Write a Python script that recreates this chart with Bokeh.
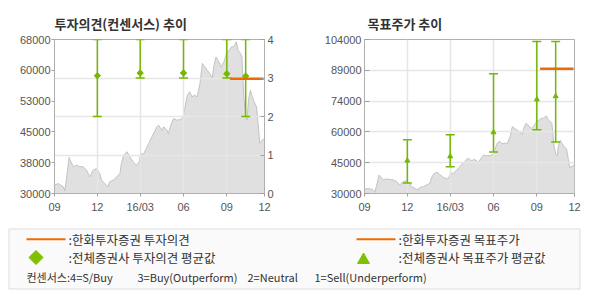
import pandas as pd
from bokeh.plotting import figure
from bokeh.models import Range1d, LinearAxis, FixedTicker, ColumnDataSource, Whisker, TeeHead
from bokeh.layouts import column, row
from bokeh.embed import file_html
from bokeh.resources import INLINE
from bokeh.core.properties import value

# ---------------- data ----------------
price_dates = ["2015-09-01","2015-09-09","2015-09-20","2015-09-23","2015-09-27","2015-10-02","2015-10-05",
               "2015-10-11","2015-10-18","2015-10-25","2015-11-01","2015-11-08","2015-11-15","2015-11-22",
               "2015-11-29","2015-12-06","2015-12-10","2015-12-17","2015-12-24","2015-12-27","2016-01-04",
               "2016-01-11","2016-01-18","2016-01-21","2016-01-26","2016-02-02","2016-02-08","2016-02-15",
               "2016-02-22","2016-02-28","2016-03-02","2016-03-08","2016-03-14","2016-03-19","2016-03-26",
               "2016-04-02","2016-04-05","2016-04-09","2016-04-16","2016-04-20","2016-04-27","2016-04-30",
               "2016-05-05","2016-05-11","2016-05-18","2016-05-25","2016-05-31","2016-06-03","2016-06-09",
               "2016-06-14","2016-06-19","2016-06-24","2016-06-30","2016-07-06","2016-07-11","2016-07-16",
               "2016-07-21","2016-07-27","2016-08-01","2016-08-04","2016-08-09","2016-08-15","2016-08-20",
               "2016-08-26","2016-08-31","2016-09-06","2016-09-11","2016-09-16","2016-09-21","2016-09-25",
               "2016-09-30","2016-10-03","2016-10-07","2016-10-11","2016-10-14","2016-10-17","2016-10-21",
               "2016-10-24","2016-10-29","2016-11-03","2016-11-07","2016-11-10","2016-11-15","2016-11-20"]
price_values = [32050,32450,31650,30650,34100,38900,38050,36600,37000,36600,36600,35750,34100,35750,
                36150,34950,33300,32450,31650,32900,33300,34100,34950,37400,39450,40300,39050,37800,
                37000,37800,39850,39700,41100,42350,44000,45600,46450,46850,45600,46450,45600,44800,
                46850,48500,48100,48250,48750,50550,54250,55100,53850,54250,53850,57150,62100,61250,
                60450,59600,58400,61250,63700,62500,61250,62500,64550,65350,66200,66200,67400,65350,
                64550,63700,53850,48900,48100,53050,55500,54250,52600,51400,46450,42350,43150,43550]

bar_dates = ["2015-12-01", "2016-03-01", "2016-06-01", "2016-09-01", "2016-10-11"]
opinion_high = [4, 4, 4, 4, 4]
opinion_low = [2, 3, 3, 3, 2]
opinion_mean = [3.06, 3.13, 3.13, 3.11, 3.05]
target_high = [55800, 58200, 87600, 103000, 103000]
target_low = [35000, 42900, 50000, 60600, 54800]
target_mean = [45800, 47800, 59400, 75200, 76700]

hanwha_dates = ["2016-09-08", "2016-11-18"]
hanwha_opinion = [2.98, 2.98]
hanwha_target = [90000, 90000]

x_tick_dates = ["2015-09-01", "2015-12-01", "2016-03-01", "2016-06-01", "2016-09-01", "2016-11-20"]
x_tick_labels = ["09", "12", "16/03", "06", "09", "12"]

price_ticks = [30000, 37600, 45200, 52800, 60400, 68000]
price_tick_labels = ["30000", "38000", "45000", "53000", "60000", "68000"]
opinion_ticks = [0, 1, 2, 3, 4]
target_ticks = [30000, 44800, 59600, 74400, 89200, 104000]
target_tick_labels = ["30000", "45000", "60000", "74000", "89000", "104000"]

title_left = "투자의견(컨센서스) 추이"
title_right = "목표주가 추이"
legend_left = [":한화투자증권 투자의견", ":전체증권사 투자의견 평균값"]
legend_right = [":한화투자증권 목표주가", ":전체증권사 목표주가 평균값"]
consensus_parts = ["컨센서스:4=S/Buy", "3=Buy(Outperform)", "2=Neutral", "1=Sell(Underperform)"]

# ---------------- helpers ----------------
origin = pd.Timestamp(x_tick_dates[0])
def days(ds):
    return [int((pd.Timestamp(d) - origin).days) for d in ds]

xt = days(x_tick_dates)
GREEN = "#74b800"
ORANGE = "#f06a00"
AXIS = "#b0b0b0"
GRID = "#e6e6e6"
NUMFONT = "Liberation Sans"
KFONT = "Noto Sans CJK KR"

def style_axis(ax, tin, tout, standoff):
    ax.axis_line_color = AXIS
    ax.major_tick_line_color = "#a0a0a0"
    ax.minor_tick_line_color = None
    ax.major_tick_in = tin
    ax.major_tick_out = tout
    ax.major_label_standoff = standoff
    ax.major_label_text_font = NUMFONT
    ax.major_label_text_font_size = "11px"
    ax.major_label_text_color = "#555555"

def base_fig(title, yr, yloc, mbl, mbr, offset):
    p = figure(width=295, height=222, output_backend="svg", toolbar_location=None,
               x_range=Range1d(0, xt[-1]), y_range=yr, y_axis_location=yloc,
               min_border_left=mbl, min_border_right=mbr, min_border_top=39, min_border_bottom=29)
    p.title.text = title
    p.title.text_font = KFONT
    p.title.text_font_size = "13px"
    p.title.text_font_style = "bold"
    p.title.text_color = "#333333"
    p.title.offset = offset
    p.title.standoff = 13
    p.outline_line_color = AXIS
    p.background_fill_color = "white"
    p.border_fill_color = "white"
    p.xaxis.ticker = FixedTicker(ticks=xt)
    p.xaxis.major_label_overrides = dict(zip(xt, x_tick_labels))
    style_axis(p.xaxis[0], 0, 3, 4)
    p.grid.grid_line_color = GRID
    p.grid.grid_line_width = 1.5
    return p

px = days(price_dates)
bx = days(bar_dates)
hx = days(hanwha_dates)

# ---------------- left: opinion ----------------
p1 = base_fig(title_left, Range1d(0, 4), "right", 54, 31, 0)
p1.extra_y_ranges = {"price": Range1d(30000, 68000)}
p1.yaxis.ticker = FixedTicker(ticks=opinion_ticks)
style_axis(p1.yaxis[0], 4, 0, 3)
lax = LinearAxis(y_range_name="price", ticker=FixedTicker(ticks=price_ticks),
                 major_label_overrides=dict(zip(price_ticks, price_tick_labels)))
style_axis(lax, 0, 3, 1)
p1.add_layout(lax, "left")

psrc = ColumnDataSource(dict(x=px, y=price_values, base=[30000] * len(px)))
p1.varea(x="x", y1="base", y2="y", source=psrc, fill_color="#e0e0e0", y_range_name="price", level="image")
p1.line(x="x", y="y", source=psrc, line_color="#c2c2c2", line_width=1, y_range_name="price", level="image")

osrc = ColumnDataSource(dict(x=bx, hi=opinion_high, lo=opinion_low, m=opinion_mean))
p1.add_layout(Whisker(base="x", upper="hi", lower="lo", source=osrc, line_color=GREEN, line_width=1.5,
                      upper_head=TeeHead(size=9, line_color=GREEN, line_width=1.5),
                      lower_head=TeeHead(size=9, line_color=GREEN, line_width=1.5)))
p1.scatter(x="x", y="m", source=osrc, marker="square", angle=0.785398, size=4.5, color=GREEN)
p1.line(x=hx, y=hanwha_opinion, line_color=ORANGE, line_width=2.5)

# ---------------- right: target price ----------------
p2 = base_fig(title_right, Range1d(30000, 104000), "left", 69, 16, 3)
p2.yaxis.ticker = FixedTicker(ticks=target_ticks)
p2.yaxis.major_label_overrides = dict(zip(target_ticks, target_tick_labels))
style_axis(p2.yaxis[0], 5, 0, 3)

psrc2 = ColumnDataSource(dict(x=px, y=price_values, base=[30000] * len(px)))
p2.varea(x="x", y1="base", y2="y", source=psrc2, fill_color="#e0e0e0", level="image")
p2.line(x="x", y="y", source=psrc2, line_color="#c2c2c2", line_width=1, level="image")

tsrc = ColumnDataSource(dict(x=bx, hi=target_high, lo=target_low, m=target_mean))
p2.add_layout(Whisker(base="x", upper="hi", lower="lo", source=tsrc, line_color=GREEN, line_width=1.5,
                      upper_head=TeeHead(size=9, line_color=GREEN, line_width=1.5),
                      lower_head=TeeHead(size=9, line_color=GREEN, line_width=1.5)))
p2.scatter(x="x", y="m", source=tsrc, marker="triangle", size=5, color=GREEN)
p2.line(x=hx, y=hanwha_target, line_color=ORANGE, line_width=2.5)

# ---------------- legend ----------------
p3 = figure(width=590, height=78, output_backend="svg", toolbar_location=None,
            x_range=Range1d(0, 590), y_range=Range1d(78, 0), min_border=0,
            x_axis_location=None, y_axis_location=None)
p3.grid.grid_line_color = None
p3.outline_line_color = None
p3.quad(left=[8.5], right=[579.5], top=[6.5], bottom=[66.5], fill_color="#fafafa", line_color="#dddddd")
p3.segment(x0=[26, 356], y0=[16.7, 16.7], x1=[65, 395], y1=[16.7, 16.7], line_color=ORANGE, line_width=2)
p3.scatter(x=[35.5], y=[35], marker="square", angle=0.785398, size=10, color="#7fc000")
p3.scatter(x=[363], y=[37.5], marker="triangle", size=12, color="#7fc000")
p3.text(x=[68, 68, 398, 398], y=[16.7, 35, 16.7, 35], text=legend_left + legend_right,
        text_font=value(KFONT), text_font_size="12.5px", text_color="#333333", text_baseline="middle")
p3.text(x=[26, 137, 247, 314], y=[54.3] * 4, text=consensus_parts,
        text_font=value(KFONT), text_font_size="11px", text_color="#333333", text_baseline="middle")

layout = column(row(p1, p2, spacing=0), p3, spacing=0)
open("out.html", "w").write(file_html(layout, INLINE))
